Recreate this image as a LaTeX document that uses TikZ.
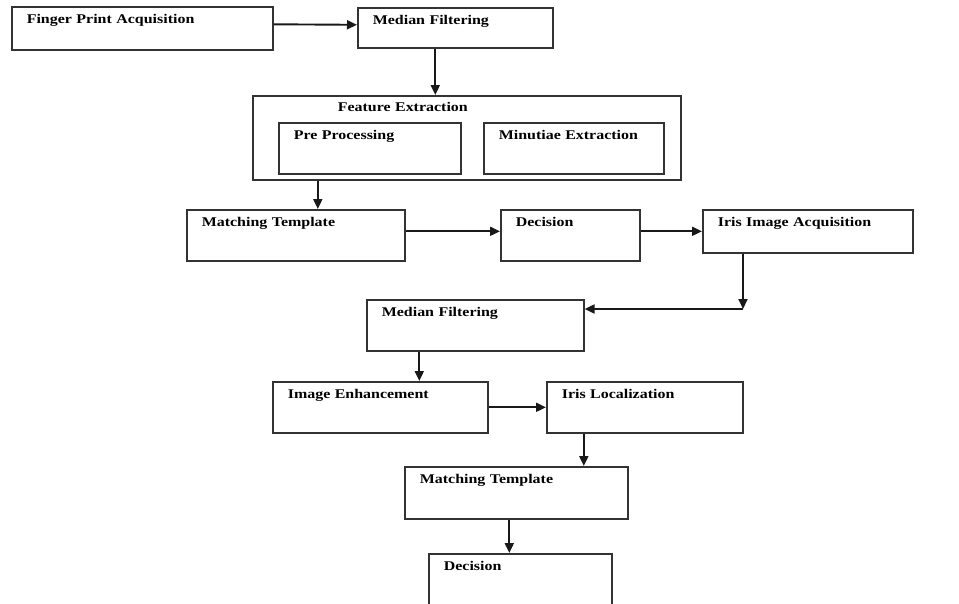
\documentclass[tikz,border=0pt]{standalone}
\usepackage{fontspec}
\setmainfont{Liberation Serif}[FakeStretch=1.2]
\usetikzlibrary{arrows.meta}

\begin{document}
\begin{tikzpicture}[x=1pt, y=-1pt,
	blk/.style={draw=black!80, line width=1.6pt, anchor=north west, align=left,
		inner xsep=15pt, inner ysep=4pt, text height=13pt,
		font=\bfseries\fontsize{13.3}{15}\selectfont},
	arr/.style={draw=black!90, line width=1.9pt, -{Triangle[length=10pt,width=9pt]}}]
		\clip (0,0) rectangle (959,603);
		\node[blk, text width=231pt, text depth=22pt] (fpa) at (11,6) {Finger Print Acquisition};
		\node[blk, text width=165pt, text depth=19pt] (mf1) at (357,7) {Median Filtering};
		\node[blk, inner xsep=85pt, inner ysep=3pt, text width=258pt, text depth=65pt] (fe) at (252,95) {Feature Extraction};
		\node[blk, text width=152pt, text depth=30pt] (pp) at (278,122) {Pre Processing};
		\node[blk, text width=150pt, text depth=30pt] (me) at (483,122) {Minutiae Extraction};
		\node[blk, text width=188pt, text depth=30pt] (mt1) at (186,209) {Matching Template};
		\node[blk, text width=109pt, text depth=30pt] (dec1) at (500,209) {Decision};
		\node[blk, text width=180pt, text depth=22pt] (iris) at (702,209) {Iris Image Acquisition};
		\node[blk, text width=187pt, text depth=30pt] (mf2) at (366,299) {Median Filtering};
		\node[blk, text width=185pt, text depth=30pt] (ie) at (272,381) {Image Enhancement};
		\node[blk, text width=166pt, text depth=30pt] (il) at (546,381) {Iris Localization};
		\node[blk, text width=193pt, text depth=31pt] (mt2) at (404,466) {Matching Template};
		\node[blk, text width=153pt, text depth=45pt] (dec2) at (428,553) {Decision};
		\coordinate (bend) at (743,309);
		% fingerprint part
		\draw[arr] ([yshift=4pt]fpa.east) -- ([yshift=3pt]mf1.west);
		\draw[arr] ([xshift=-20pt]mf1.south) -- ([xshift=-20pt]mf1.south |- fe.north);
		\draw[arr] ([xshift=22pt]mt1.north |- fe.south) -- ([xshift=22pt]mt1.north);
		\draw[arr] ([yshift=4pt]mt1.east) -- ([yshift=4pt]dec1.west);
		\draw[arr] (dec1.east |- iris.west) -- (iris.west);
		% iris part
		\draw[arr] (iris.south -| bend) -- (bend);
		\draw[arr] (bend) -- (bend -| mf2.east);
		\draw[arr] ([xshift=-56pt]mf2.south) -- ([xshift=-56pt]mf2.south |- ie.north);
		\draw[arr] (ie) -- (il);
		\draw[arr] ([xshift=-61pt]il.south) -- ([xshift=-61pt]il.south |- mt2.north);
		\draw[arr] ([xshift=-7pt]mt2.south) -- ([xshift=-7pt]mt2.south |- dec2.north);
\end{tikzpicture}
\end{document}
